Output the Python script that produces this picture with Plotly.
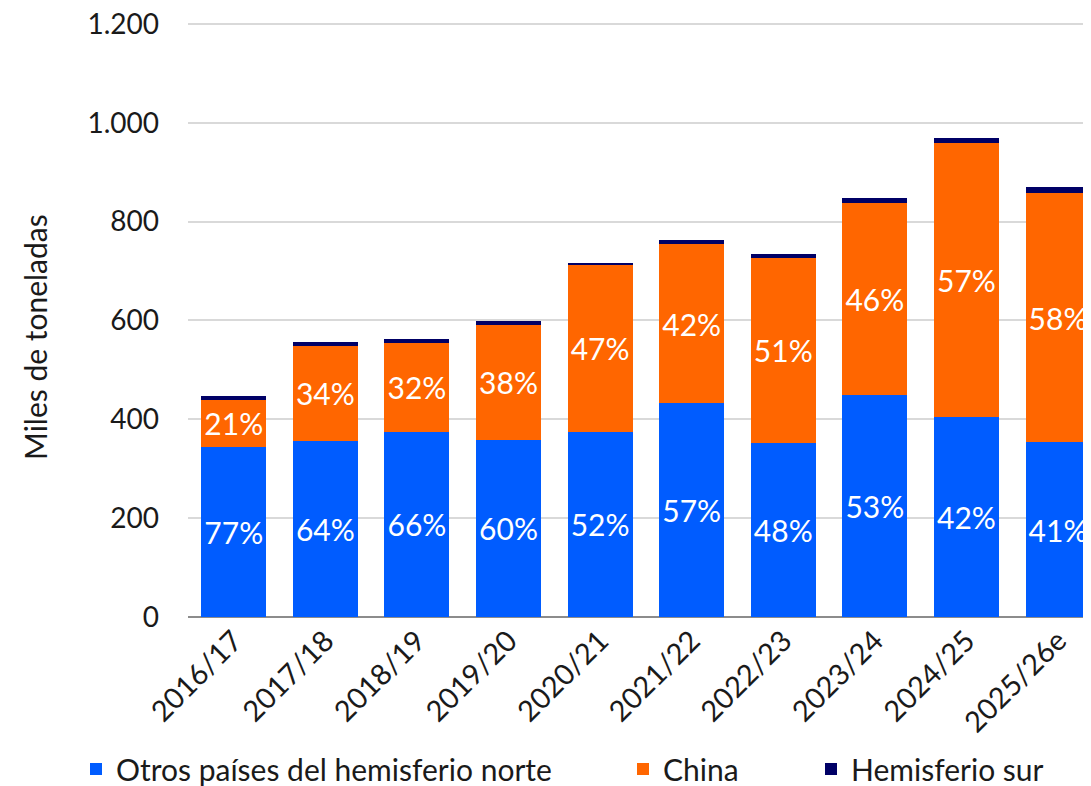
import plotly.graph_objects as go

campanas = ["2016/17", "2017/18", "2018/19", "2019/20", "2020/21",
            "2021/22", "2022/23", "2023/24", "2024/25", "2025/26e"]

# miles de toneladas
otros_norte = [344, 357, 375, 359, 375, 432, 353, 449, 405, 354]
china = [95, 191, 180, 231, 337, 323, 373, 389, 554, 503]
hem_sur = [8, 8, 8, 8, 5, 7, 9, 10, 11, 14]

pct_otros = [77, 64, 66, 60, 52, 57, 48, 53, 42, 41]
pct_china = [21, 34, 32, 38, 47, 42, 51, 46, 57, 58]

FONT = "Lato"
txt_color = "#1a1a1a"
W, H = 1083, 778  # page body has an 8px margin
y_top = 1220
px_per_unit = 0.4946
t_margin = round(609 - y_top * px_per_unit)

fig = go.Figure()
fig.add_trace(go.Bar(
    x=campanas, y=otros_norte, name="Otros países del hemisferio norte",
    marker=dict(color="#005cff", line=dict(width=0)),
    text=[f"{p}%" for p in pct_otros], textposition="inside",
    insidetextanchor="middle", textangle=0,
    textfont=dict(size=30, color="white", family=FONT),
    legend="legend",
))
fig.add_trace(go.Bar(
    x=campanas, y=china, name="China",
    marker=dict(color="#ff6600", line=dict(width=0)),
    text=[f"{p}%" for p in pct_china], textposition="inside",
    insidetextanchor="middle", textangle=0,
    textfont=dict(size=30, color="white", family=FONT),
    legend="legend2",
))
fig.add_trace(go.Bar(
    x=campanas, y=hem_sur, name="Hemisferio sur",
    marker=dict(color="#000066", line=dict(width=0)),
    legend="legend3",
))

legend_common = dict(orientation="h", yanchor="middle", xanchor="left",
                     xref="container", yref="container", y=1 - 761 / H,
                     font=dict(size=30, family=FONT, color=txt_color),
                     bgcolor="rgba(0,0,0,0)")

fig.update_layout(
    barmode="stack",
    bargap=0.29,
    width=W, height=H,
    margin=dict(l=180, r=0, t=t_margin, b=H - 609, autoexpand=False),
    plot_bgcolor="white", paper_bgcolor="white",
    separators=",.",
    font=dict(family=FONT, size=28, color=txt_color),
    uniformtext=dict(minsize=20, mode="show"),
    hovermode=False,
    showlegend=True,
    legend=dict(x=68 / W, **legend_common),
    legend2=dict(x=615 / W, **legend_common),
    legend3=dict(x=803 / W, **legend_common),
)

fig.update_xaxes(
    range=[-0.5, 9.36], tickangle=-45,
    tickfont=dict(size=29, family=FONT, color=txt_color),
    showgrid=False, ticks="", showline=False, automargin=False,
)
fig.update_yaxes(
    range=[0, y_top], tickvals=[0, 200, 400, 600, 800, 1000, 1200],
    tickformat=",d", ticklabeloverflow="allow",
    tickfont=dict(size=28, family=FONT, color=txt_color),
    showgrid=True, gridcolor="#d9d9d9", gridwidth=2,
    zeroline=True, zerolinecolor="#8c8c8c", zerolinewidth=2,
    ticklabelstandoff=28, automargin=False,
)

fig.add_annotation(
    text="Miles de toneladas", textangle=-90,
    xref="paper", yref="paper", x=(27 - 180) / 903,
    y=(609 - 329) / (609 - t_margin),
    xanchor="center", yanchor="middle", showarrow=False,
    font=dict(size=30, family=FONT, color=txt_color),
)

fig.write_html("out.html")
